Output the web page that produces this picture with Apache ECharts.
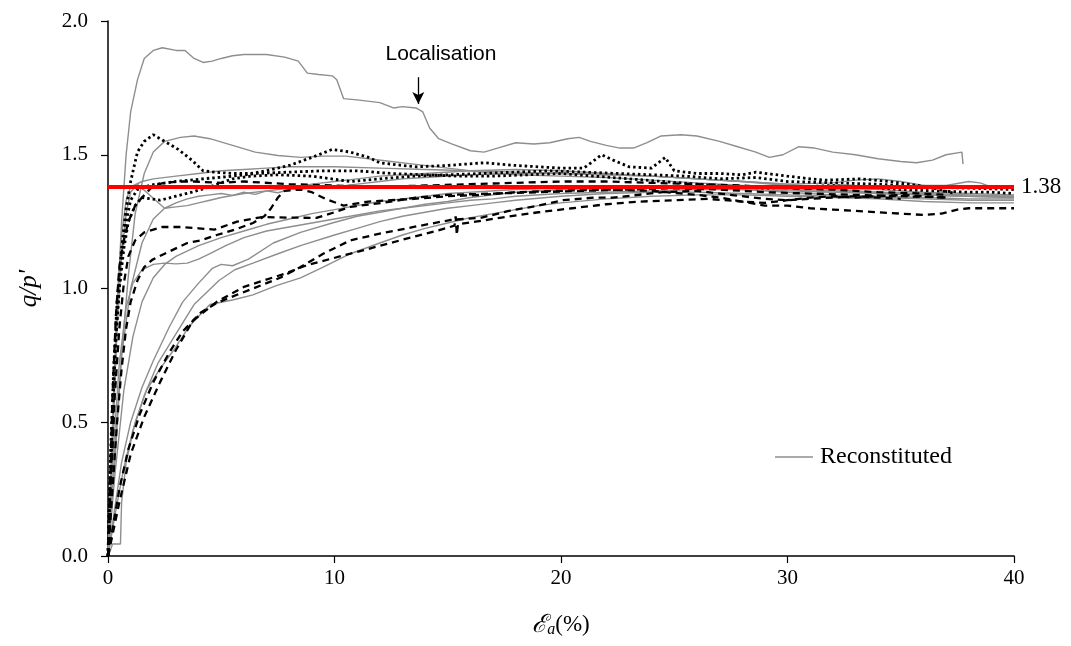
<!DOCTYPE html>
<html>
<head>
<meta charset="utf-8">
<script src="https://cdn.jsdelivr.net/npm/echarts@6/dist/echarts.min.js"></script>
<style>html,body{margin:0;padding:0;background:#fff}#c{width:1071px;height:646px}</style>
</head>
<body>
<div id="c"></div>
<script>
// ---- data (x = axial strain %, y = q/p') ----
const xTicks = [0, 10, 20, 30, 40];
const yTicks = [0, 0.5, 1.0, 1.5, 2.0];
const criticalRatio = 1.38;

// Reconstituted (grey solid)
const recon1 = [[0,0],[0.2,0.4],[0.4,0.9],[0.6,1.25],[0.8,1.5],[1.0,1.66],[1.3,1.78],[1.6,1.86],[2.0,1.89],[2.4,1.9],[3.0,1.89],[3.4,1.89],[3.8,1.86],[4.2,1.845],[4.6,1.85],[5.0,1.86],[5.5,1.87],[6.0,1.875],[7.0,1.875],[7.8,1.865],[8.4,1.85],[8.8,1.805],[9.3,1.8],[9.9,1.795],[10.1,1.78],[10.4,1.71],[11,1.705],[12,1.695],[12.6,1.675],[13,1.68],[13.6,1.675],[13.9,1.66],[14.2,1.6],[14.6,1.56],[15.2,1.54],[16,1.515],[16.6,1.51],[17.2,1.525],[18,1.545],[18.8,1.54],[19.5,1.545],[20.3,1.56],[20.8,1.565],[21.3,1.55],[22,1.535],[22.6,1.525],[23.2,1.525],[23.8,1.545],[24.4,1.57],[25.3,1.575],[26,1.57],[27,1.55],[27.8,1.53],[28.6,1.51],[29.2,1.49],[29.8,1.5],[30.5,1.53],[31.2,1.525],[32,1.51],[33,1.5],[34,1.485],[35,1.475],[35.7,1.47],[36.4,1.48],[37.0,1.5],[37.7,1.51],[37.75,1.465]];
const recon2 = [[0,0],[0.3,0.35],[0.6,0.75],[0.9,1.05],[1.2,1.28],[1.6,1.43],[2.0,1.51],[2.5,1.55],[3.2,1.565],[3.8,1.57],[4.5,1.56],[5.5,1.535],[6.5,1.51],[7.5,1.497],[8.5,1.49],[9.5,1.495],[10.5,1.495],[11.5,1.485],[12.5,1.475],[13.5,1.465],[15,1.45],[16.5,1.435],[18,1.425],[20,1.42],[22,1.415],[24,1.405],[26,1.395],[28,1.385],[30,1.375],[32,1.365],[34,1.355],[36,1.35],[38,1.345],[40,1.345]];
const recon3 = [[0,0],[0.2,0.45],[0.4,0.85],[0.6,1.12],[0.8,1.28],[1.0,1.36],[1.3,1.39],[1.7,1.36],[2.1,1.33],[2.5,1.3],[3.0,1.305],[3.5,1.31],[4.0,1.32],[4.5,1.33],[5.0,1.34],[6,1.355],[7,1.365],[8,1.375],[9,1.39],[10,1.4],[11,1.41],[12,1.42],[14,1.43],[16,1.44],[18,1.445],[20,1.44],[22,1.43],[24,1.42],[26,1.41],[28,1.4],[30,1.385],[32,1.37],[34,1.36],[36,1.35],[38,1.345],[40,1.34]];
const recon4 = [[0,0],[0.2,0.35],[0.5,0.72],[0.8,0.93],[1.1,1.02],[1.5,1.07],[2.0,1.09],[2.5,1.095],[3.0,1.092],[3.5,1.095],[4.0,1.11],[4.5,1.13],[5.2,1.16],[6,1.19],[7,1.215],[8,1.23],[9,1.245],[10,1.26],[11,1.275],[12,1.29],[13,1.3],[14,1.315],[15,1.325],[16,1.34],[17,1.35],[18,1.36],[20,1.37],[22,1.375],[24,1.38],[26,1.38],[28,1.375],[30,1.37],[32,1.36],[34,1.355],[36,1.35],[38,1.345],[40,1.34]];
const recon5 = [[0,0],[0.3,0.4],[0.6,0.75],[1.0,1.0],[1.5,1.17],[2.0,1.26],[2.5,1.3],[3,1.32],[3.5,1.335],[4.0,1.345],[4.5,1.35],[5.0,1.355],[5.5,1.348],[6,1.36],[6.5,1.352],[7,1.365],[7.5,1.358],[8,1.37],[9,1.375],[10,1.38],[11,1.39],[12,1.4],[13,1.41],[14,1.415],[15,1.42],[16,1.425],[18,1.43],[20,1.43],[22,1.425],[24,1.42],[26,1.41],[28,1.4],[30,1.39],[32,1.375],[34,1.37],[36,1.36],[38,1.355],[40,1.35]];
const recon6 = [[0,0],[0.3,0.3],[0.7,0.62],[1.1,0.82],[1.5,0.95],[2.0,1.04],[2.5,1.09],[3,1.12],[4,1.16],[5,1.19],[6,1.215],[7,1.24],[8,1.26],[9,1.28],[10,1.295],[11,1.31],[12,1.325],[13,1.335],[14,1.345],[15,1.355],[16,1.36],[18,1.37],[20,1.375],[22,1.38],[24,1.38],[26,1.375],[28,1.37],[30,1.36],[32,1.35],[34,1.345],[36,1.34],[38,1.335],[40,1.335]];
const recon7 = [[0,0],[0.3,0.18],[0.6,0.35],[1.0,0.5],[1.5,0.63],[2.0,0.73],[2.7,0.855],[3.3,0.95],[4.0,1.02],[4.6,1.075],[5.0,1.09],[5.5,1.085],[6.2,1.11],[7.3,1.17],[8.5,1.21],[9.9,1.245],[11,1.27],[12,1.285],[13,1.3],[14,1.31],[15,1.32],[16,1.33],[17,1.335],[18,1.345],[20,1.355],[22,1.36],[24,1.365],[26,1.37],[28,1.37],[30,1.365],[32,1.36],[34,1.36],[36,1.355],[38,1.35],[40,1.345]];
const recon8 = [[0,0],[0.3,0.15],[0.7,0.33],[1.1,0.47],[1.6,0.6],[2.2,0.72],[3.0,0.83],[3.8,0.94],[4.9,1.03],[5.6,1.07],[6.4,1.095],[7.5,1.13],[8.5,1.16],[10,1.2],[11,1.225],[12,1.25],[13,1.27],[14,1.285],[15,1.3],[16,1.31],[17,1.32],[18,1.33],[20,1.345],[22,1.355],[24,1.36],[26,1.36],[28,1.355],[30,1.35],[32,1.345],[34,1.34],[36,1.335],[38,1.33],[40,1.33]];
const recon9 = [[0,0],[0.1,0.02],[0.2,0.045],[0.55,0.045],[0.6,0.2],[0.8,0.35],[1.2,0.5],[1.7,0.62],[2.3,0.7],[2.9,0.77],[3.6,0.86],[4.5,0.94],[5.5,0.957],[6.4,0.976],[7.4,1.01],[8.5,1.04],[9.5,1.08],[10.7,1.13],[12,1.17],[13,1.2],[14,1.225],[15,1.245],[16,1.265],[17,1.28],[18,1.295],[19,1.31],[20,1.32],[22,1.335],[24,1.345],[26,1.35],[28,1.35],[30,1.345],[32,1.34],[34,1.335],[36,1.325],[38,1.32],[40,1.32]];
const recon10 = [[0,0],[0.2,0.5],[0.4,0.95],[0.6,1.2],[0.8,1.33],[1.0,1.38],[1.5,1.4],[2,1.41],[3,1.42],[4,1.43],[5,1.44],[6,1.445],[7,1.45],[8,1.455],[9,1.455],[10,1.455],[12,1.45],[14,1.445],[16,1.44],[18,1.435],[20,1.43],[22,1.425],[24,1.42],[26,1.41],[28,1.4],[30,1.39],[32,1.395],[33,1.405],[34,1.41],[35,1.4],[36,1.385],[37,1.385],[38,1.4],[38.5,1.395],[39,1.38],[40,1.375]];

// Black dashed
const dashed1 = [[0,0],[0.2,0.1],[0.5,0.25],[0.9,0.4],[1.4,0.53],[2.0,0.65],[2.7,0.76],[3.3,0.84],[4.1,0.91],[4.8,0.946],[5.8,0.98],[7.6,1.04],[8.5,1.08],[9.5,1.13],[10.7,1.18],[12.1,1.207],[13.5,1.23],[15.1,1.256],[16.5,1.265],[17.7,1.29],[19,1.31],[20.1,1.33],[21.5,1.34],[22.3,1.34],[24.5,1.36],[26,1.365],[27,1.355],[28,1.345],[29,1.335],[30,1.33],[31,1.335],[32,1.34],[33,1.345],[34,1.34],[35,1.335]];
const dashed2 = [[0,0],[0.2,0.08],[0.5,0.2],[1.0,0.38],[1.6,0.52],[2.3,0.65],[3.0,0.77],[3.75,0.88],[4.8,0.95],[6,1.006],[7.9,1.058],[8.8,1.088],[10.7,1.13],[12.9,1.18],[14.5,1.215],[15.3,1.235],[15.35,1.27],[15.4,1.2],[15.45,1.24],[17.3,1.264],[19,1.285],[20.5,1.3],[22,1.315],[23.5,1.325],[25,1.33],[26.5,1.335],[28,1.325],[29,1.31],[30,1.31],[31,1.3],[32,1.295],[33,1.29],[34,1.285],[35,1.28],[36,1.275],[36.8,1.28],[37.5,1.295],[38,1.3],[39,1.3],[40,1.3]];
const dashed3 = [[0,0],[0.15,0.3],[0.3,0.6],[0.5,0.85],[0.7,1.02],[0.9,1.12],[1.2,1.18],[1.6,1.21],[2.4,1.23],[3.2,1.23],[4,1.225],[4.7,1.22],[5.7,1.25],[6.8,1.267],[8,1.265],[9.2,1.264],[10,1.285],[10.7,1.305],[12.1,1.32],[13.6,1.34],[15,1.35],[17,1.355],[19,1.36],[21,1.365],[23,1.37],[25,1.375],[27,1.37],[29,1.36],[31,1.355],[33,1.35],[35,1.345],[37,1.34]];
const dashed4 = [[0,0],[0.2,0.25],[0.4,0.5],[0.6,0.7],[0.8,0.85],[1.0,0.95],[1.3,1.03],[1.6,1.08],[1.95,1.107],[2.5,1.13],[3.5,1.17],[4.1,1.18],[4.8,1.2],[5.6,1.22],[6.4,1.245],[6.9,1.27],[7.2,1.3],[7.5,1.34],[7.8,1.365],[8.5,1.37],[9,1.36],[9.6,1.335],[10.4,1.31],[11.5,1.325],[12.5,1.33],[13.5,1.335],[15,1.345],[16.5,1.35],[18,1.36],[20,1.365],[22,1.37],[24,1.365],[26,1.35],[27,1.34],[28,1.325],[29,1.32],[30,1.33],[31,1.34],[32,1.345],[33,1.34],[34,1.345],[35,1.35],[36,1.345],[37,1.34]];
const dashed5 = [[0,0],[0.1,0.3],[0.2,0.6],[0.35,0.9],[0.5,1.08],[0.7,1.18],[0.9,1.25],[1.2,1.31],[1.5,1.34],[2.0,1.385],[2.5,1.395],[3.2,1.4],[3.8,1.4],[5,1.395],[6,1.4],[8,1.39],[10,1.385],[12,1.38],[14,1.385],[16,1.39],[18,1.395],[20,1.4],[22,1.4],[24,1.395],[26,1.39],[28,1.385],[30,1.375],[32,1.37],[34,1.36],[36,1.355],[37,1.35]];

// Black dotted
const dotted1 = [[0,0],[0.1,0.35],[0.25,0.7],[0.4,0.95],[0.6,1.15],[0.8,1.3],[1.0,1.4],[1.3,1.51],[1.6,1.55],[2.0,1.575],[2.4,1.555],[2.8,1.535],[3.1,1.52],[3.7,1.48],[4.2,1.44],[4.7,1.435],[5.5,1.43],[6.3,1.43],[7,1.44],[8,1.46],[9,1.49],[9.9,1.52],[10.7,1.51],[11.5,1.49],[12,1.47],[13,1.46],[13.6,1.455],[15,1.46],[16.6,1.47],[18,1.46],[19,1.455],[20,1.45],[21,1.45],[21.8,1.5],[22.3,1.48],[23,1.455],[24,1.45],[24.6,1.49],[25,1.44],[26,1.43],[27,1.43],[28,1.425],[28.6,1.435],[30,1.42],[31,1.41],[31.7,1.405],[33.2,1.41],[34.5,1.4],[36.2,1.38],[37.3,1.357]];
const dotted2 = [[0,0],[0.15,0.4],[0.3,0.75],[0.5,1.0],[0.7,1.15],[0.9,1.25],[1.2,1.31],[1.5,1.34],[2.3,1.33],[3,1.345],[3.7,1.36],[4.5,1.38],[5.5,1.41],[6.3,1.42],[7.5,1.425],[9,1.42],[10.7,1.4],[12,1.41],[13.5,1.42],[15,1.425],[16.5,1.43],[18,1.435],[19.5,1.44],[21,1.435],[22.5,1.43],[24,1.425],[25.5,1.42],[27,1.41],[28.6,1.415],[30,1.4],[32,1.395],[34,1.39],[36,1.38],[38,1.375],[40,1.37]];
const dotted3 = [[0,0],[0.1,0.3],[0.25,0.65],[0.4,0.9],[0.6,1.1],[0.8,1.25],[1.0,1.33],[1.3,1.37],[1.9,1.387],[3,1.4],[4.2,1.41],[5.5,1.42],[6.6,1.43],[8,1.435],[9.5,1.44],[11,1.44],[12.5,1.43],[14,1.425],[15.5,1.42],[17,1.42],[18.5,1.425],[20,1.43],[21.5,1.42],[23,1.41],[24.5,1.4],[26,1.39],[27.5,1.38],[29,1.375],[30.5,1.38],[32,1.385],[33.5,1.38],[35,1.37],[36.5,1.365],[38,1.36],[39,1.36],[40,1.355]];

// annotation anchor (data coords)
const annotText = 'Localisation';
const annotLabelAt = [14.7, 1.875];
const annotArrow = [[13.7, 1.79], [13.7, 1.69]];

const reconSets = [recon1, recon2, recon3, recon4, recon5, recon6, recon7, recon8, recon9, recon10];
const dashedSets = [dashed1, dashed2, dashed3, dashed4, dashed5];
const dottedSets = [dotted1, dotted2, dotted3];

const SERIF = '"Liberation Serif","Times New Roman","DejaVu Serif",serif';
const series = [];
reconSets.forEach(d => series.push({
  name: 'Reconstituted', type: 'line', data: d, showSymbol: false, symbol: 'none',
  lineStyle: {color: '#8e8e8e', width: 1.4}, itemStyle: {color: '#8e8e8e'}, z: 2, silent: true
}));
dashedSets.forEach((d, i) => series.push({
  name: 'dashed' + i, type: 'line', data: d, showSymbol: false, symbol: 'none',
  lineStyle: {color: '#000', width: 2.3, type: [7, 5]}, z: 3, silent: true
}));
dottedSets.forEach((d, i) => series.push({
  name: 'dotted' + i, type: 'line', data: d, showSymbol: false, symbol: 'none',
  lineStyle: {color: '#000', width: 2.8, type: [2.5, 3]}, z: 3, silent: true
}));
// critical state line + annotation
series.push({
  name: 'csl', type: 'line', data: [], silent: true, z: 5,
  markLine: {
    silent: true, symbol: 'none', animation: false,
    lineStyle: {color: '#ff0000', width: 4, type: 'solid'},
    label: {show: true, position: 'end', formatter: String(criticalRatio.toFixed(2)),
            color: '#000', fontFamily: SERIF, fontSize: 23, distance: 7},
    data: [{yAxis: criticalRatio}]
  }
});
series.push({
  name: 'annot', type: 'line', data: [], silent: true, z: 6,
  markLine: {
    silent: true, animation: false, symbol: ['none', 'arrow'], symbolSize: [9, 12],
    lineStyle: {color: '#000', width: 1.3, type: 'solid'},
    label: {show: false},
    data: [[{coord: annotArrow[0]}, {coord: annotArrow[1]}]]
  },
  markPoint: {
    silent: true, animation: false, symbol: 'circle', symbolSize: 0,
    label: {show: true, formatter: annotText, color: '#000',
            fontFamily: '"Liberation Sans",Arial,sans-serif', fontSize: 21, position: 'inside'},
    data: [{coord: annotLabelAt}]
  }
});

const chart = echarts.init(document.getElementById('c'), null, {renderer: 'canvas'});
chart.setOption({
  animation: false,
  backgroundColor: '#fff',
  grid: {left: 108, right: 57, top: 21, bottom: 90, containLabel: false},
  legend: {
    data: ['Reconstituted'], left: 770, top: 440, icon: 'rect', itemWidth: 38, itemHeight: 1.5,
    itemGap: 4, textStyle: {fontFamily: SERIF, fontSize: 24, color: '#000', padding: [0, 0, 0, 2]}
  },
  xAxis: {
    type: 'value', min: xTicks[0], max: xTicks[xTicks.length - 1], interval: 10,
    splitLine: {show: false},
    axisLine: {lineStyle: {color: '#000', width: 1.5}},
    axisTick: {show: true, length: 7, lineStyle: {color: '#000', width: 1.2}},
    axisLabel: {color: '#000', fontFamily: SERIF, fontSize: 21, margin: 12},
    name: '{e|ℰ}{a|a}{p|(%)}', nameLocation: 'middle', nameGap: 56,
    nameTextStyle: {rich: {
      e: {fontFamily: SERIF, fontSize: 25, fontStyle: 'italic', color: '#000'},
      a: {fontFamily: SERIF, fontSize: 16, fontStyle: 'italic', color: '#000', verticalAlign: 'bottom', padding: [10, 0, 0, 0]},
      p: {fontFamily: SERIF, fontSize: 23, color: '#000'}
    }}
  },
  yAxis: {
    type: 'value', min: yTicks[0], max: yTicks[yTicks.length - 1], interval: 0.5,
    splitLine: {show: false},
    axisLine: {show: true, lineStyle: {color: '#000', width: 1.5}},
    axisTick: {show: true, length: 7, lineStyle: {color: '#000', width: 1.2}},
    axisLabel: {color: '#000', fontFamily: SERIF, fontSize: 21, margin: 20,
                formatter: v => v.toFixed(1)},
    name: "q/p'", nameLocation: 'middle', nameGap: 66,
    nameTextStyle: {fontFamily: SERIF, fontSize: 25, fontStyle: 'italic', color: '#000'}
  },
  series: series
});
</script>
</body>
</html>
